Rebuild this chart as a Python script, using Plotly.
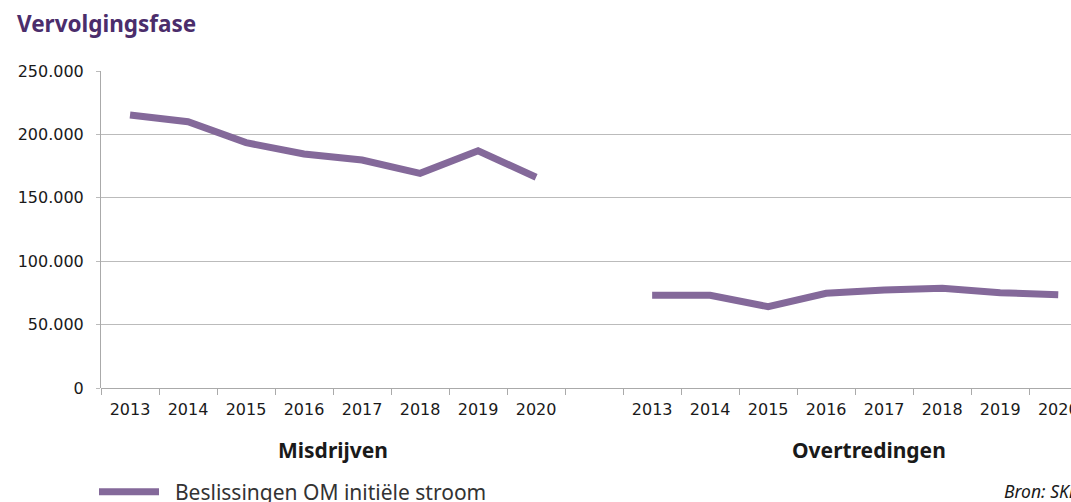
import plotly.graph_objects as go

years = ["2013", "2014", "2015", "2016", "2017", "2018", "2019", "2020"]
misdrijven = [215300, 210000, 193500, 184500, 179800, 169300, 187100, 166200]
overtredingen = [73100, 73100, 64100, 74700, 77300, 78600, 75200, 73600]
group_labels = ["Misdrijven", "Overtredingen"]
series_name = "Beslissingen OM initiële stroom"
source_text = "Bron: SKDB"

# positions: group 1 at 0..7, gap at 8, group 2 at 9..16
n = len(years)
x_vals = list(range(n)) + [n] + list(range(n + 1, 2 * n + 1))
y_vals = misdrijven + [None] + overtredingen
tick_vals = list(range(n)) + list(range(n + 1, 2 * n + 1))
tick_text = years + years

color = "#84699A"
sans = "Noto Sans, Open Sans, sans-serif"
tickfam = "DejaVu Sans, sans-serif"

fig = go.Figure()
fig.add_trace(go.Scatter(
    x=x_vals, y=y_vals, mode="lines", name="\u00a0\u00a0" + series_name,
    line=dict(color=color, width=7), connectgaps=False,
    showlegend=True,
))

fig.update_layout(
    width=1071, height=502,
    margin=dict(l=101, r=0, t=71, b=114, autoexpand=False),
    plot_bgcolor="white", paper_bgcolor="white",
    separators=",.",
    font=dict(family=sans, color="#1a1a1a"),
    title=dict(text="<b>Vervolgingsfase</b>", x=17 / 1071, xanchor="left",
               y=1 - 24 / 502, yanchor="middle",
               font=dict(size=22.5, color="#4B2D6B", family=sans)),
    showlegend=True,
    legend=dict(orientation="h", xref="container", yref="container",
                x=94 / 1071, xanchor="left", y=1 - 492 / 502, yanchor="middle",
                font=dict(size=21, color="#333333", family=sans), itemwidth=60,
                bgcolor="rgba(0,0,0,0)"),
)

fig.update_xaxes(
    range=[-0.5, 16.22], automargin=False, ticklabeloverflow="allow",
    tickmode="array", tickvals=tick_vals, ticktext=tick_text,
    ticks="", showgrid=False, zeroline=False, showline=False,
    ticklabelstandoff=10,
    tickfont=dict(size=16, color="#1a1a1a", family=tickfam),
    minor=dict(tick0=-0.5, dtick=1, ticks="outside", ticklen=6,
               tickcolor="#AAAAAA", tickwidth=1, showgrid=False),
)
fig.update_yaxes(
    range=[0, 250000], dtick=50000, tickformat=",d", automargin=False,
    showgrid=True, gridcolor="#BBBBBB", gridwidth=1,
    showline=True, linecolor="#AAAAAA", linewidth=1,
    zeroline=True, zerolinecolor="#AAAAAA", zerolinewidth=1,
    ticks="outside", ticklen=4, tickcolor="#BBBBBB",
    ticklabelstandoff=9,
    tickfont=dict(size=16, color="#1a1a1a", family=tickfam),
)

label_shift = [0, 14]
for i, lbl in enumerate(group_labels):
    fig.add_annotation(
        x=(n - 1) / 2 + i * (n + 1), xref="x", y=-62 / 317, yref="paper",
        xshift=label_shift[i],
        text=f"<b>{lbl}</b>", showarrow=False,
        font=dict(size=21, color="#1a1a1a", family=sans),
        xanchor="center", yanchor="middle",
    )

fig.add_annotation(
    x=(1002 - 101) / 970, xref="paper", y=-103 / 317, yref="paper",
    xanchor="left", yanchor="middle", showarrow=False,
    text=f"<i>{source_text}</i>", font=dict(size=17.5, color="#1a1a1a", family=sans),
)

fig.write_html("out.html", config={"displayModeBar": False},
               post_script="document.body.style.margin='0';")
